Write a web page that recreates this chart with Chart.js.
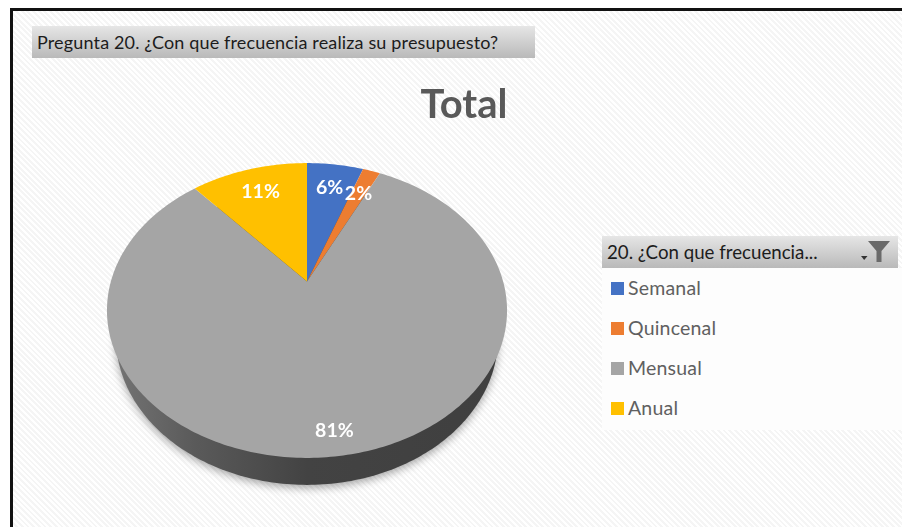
<!DOCTYPE html>
<html lang="es">
<head>
<meta charset="utf-8">
<script src="https://cdn.jsdelivr.net/npm/chart.js@4/dist/chart.umd.min.js"></script>
<style>
  html,body{margin:0;padding:0;background:#fff;width:902px;height:527px;overflow:hidden;font-family:Lato,"Open Sans",sans-serif}
  #frame{position:absolute;left:10px;top:8px;width:892px;height:519px;box-sizing:border-box;border-left:3px solid #111;border-top:3px solid #111;
    background:repeating-linear-gradient(45deg,#fff 0 2px,#f5f5f5 2px 4px)}
  #c{position:absolute;left:0;top:0}
  .band{position:absolute;background:linear-gradient(#e6e6e6,#b9b9b9);color:#1c1c1c;box-sizing:border-box;white-space:nowrap}
  #q{left:32px;top:26px;width:503px;height:32px;font-size:18px;line-height:32px;padding-left:5px;letter-spacing:.15px}
  #lh{left:602px;top:236px;width:296px;height:32px;font-size:18.7px;line-height:33px;padding-left:5px}
  #lbg{position:absolute;left:602px;top:268px;width:300px;height:162px;background:#fdfdfd}
  .it{position:absolute;left:628px;font-size:19.5px;line-height:24px;color:#606060;letter-spacing:.2px}
  .sw{position:absolute;left:611px;width:12.5px;height:13px}
  #fi{position:absolute;left:868px;top:241px}
</style>
</head>
<body>
<div id="frame"></div>
<div id="q" class="band">Pregunta 20. ¿Con que frecuencia realiza su presupuesto?</div>
<div id="lbg"></div>
<div id="lh" class="band">20. ¿Con que frecuencia...</div>
<svg id="fi" width="22" height="24" viewBox="0 0 22 24">
  <path d="M0 0H22L13.5 10V21H8.5V10Z" fill="#6a6a6a"/>
</svg>
<svg style="position:absolute;left:861px;top:256px" width="7" height="5"><path d="M0 0H6.5L3.2 4Z" fill="#333"/></svg>
<div id="legend"></div>
<canvas id="c" width="902" height="527"></canvas>
<script>
const categories = ["Semanal","Quincenal","Mensual","Anual"];
const values = [5.5,1.7,81.4,11.4];
const colors = ["#4472C4","#ED7D31","#A5A5A5","#FFC000"];
const chartTitle = "Total";

// Perspective of the tilted pie: apex sits above the centre of the rim ellipse
const tilt = {sx:1.313, sy:0.9487, k:0.196, depth:27, sideWidth:0.955};

function project(el, angle, r){
  const R = el.outerRadius;
  const u = Math.cos(angle)*r, v = Math.sin(angle)*r;
  const w = 1 - tilt.k*v;
  return {x: el.x + tilt.sx*R*u/w, y: el.y + tilt.sy*R*v/w};
}
function tracePoints(ctx, pts){
  pts.forEach((p,i)=> i? ctx.lineTo(p.x,p.y) : ctx.moveTo(p.x,p.y));
  ctx.closePath();
}

const tiltedPie = {
  id:'tiltedPie',
  afterLayout(chart){
    const t = chart.titleBlock;
    t.left = 420; t.right = 508; t.top = 82; t.bottom = 128;
  },
  beforeDatasetDraw(chart, args){
    const ctx = chart.ctx, arcs = args.meta.data, el0 = arcs[0];
    const rim = [];
    for(let i=0;i<360;i++) rim.push(project(el0, i*Math.PI/180, 1));
    const xs = rim.map(p=>p.x), left = Math.min(...xs), right = Math.max(...xs);
    const mid = (left+right)/2;
    const side = rim.map(p=>({x:mid+(p.x-mid)*tilt.sideWidth, y:p.y+tilt.depth}));
    const g = ctx.createLinearGradient(left,0,right,0);
    g.addColorStop(0,'#767676'); g.addColorStop(.22,'#5a5a5a'); g.addColorStop(.5,'#434343'); g.addColorStop(1,'#3f3f3f');
    ctx.save();
    ctx.shadowColor='rgba(0,0,0,.35)'; ctx.shadowBlur=9; ctx.shadowOffsetY=3;
    ctx.fillStyle=g; ctx.beginPath(); tracePoints(ctx,side); ctx.fill();
    ctx.shadowColor='transparent';
    arcs.forEach((el,i)=>{
      const pts=[project(el,0,0)];
      const n=Math.max(2,Math.ceil((el.endAngle-el.startAngle)*180/Math.PI));
      for(let j=0;j<=n;j++) pts.push(project(el, el.startAngle+(el.endAngle-el.startAngle)*j/n, 1));
      ctx.fillStyle=colors[i]; ctx.beginPath(); tracePoints(ctx,pts); ctx.fill();
    });
    ctx.restore();
    return false;
  },
  afterDatasetsDraw(chart){
    const ctx = chart.ctx;
    ctx.save();
    ctx.fillStyle='#fff'; ctx.font='bold 19.5px Lato, sans-serif';
    ctx.textAlign='center'; ctx.textBaseline='middle';
    chart.getDatasetMeta(0).data.forEach((el,i)=>{
      const p=project(el,(el.startAngle+el.endAngle)/2, values[i]>50?0.88:0.77);
      ctx.fillText(Math.round(values[i])+'%',p.x,p.y);
    });
    ctx.restore();
  }
};

const legendEl=document.getElementById('legend');
categories.forEach((c,i)=>{
  const y=288+i*40;
  legendEl.insertAdjacentHTML('beforeend',
    `<div class="sw" style="top:${y-6}px;background:${colors[i]}"></div><div class="it" style="top:${y-12}px">${c}</div>`);
});

new Chart(document.getElementById('c'),{
  type:'pie',
  data:{labels:categories,datasets:[{data:values,backgroundColor:colors,borderWidth:0}]},
  plugins:[tiltedPie],
  options:{
    responsive:false,animation:false,
    layout:{padding:{top:85.4,bottom:96,left:157,right:445}},
    plugins:{
      legend:{display:false},
      tooltip:{enabled:false},
      title:{display:true,text:chartTitle,color:'#595959',padding:0,
        font:{family:'Lato, sans-serif',size:40,weight:'bold',lineHeight:1.17}}
    }
  }
});
</script>
</body>
</html>
